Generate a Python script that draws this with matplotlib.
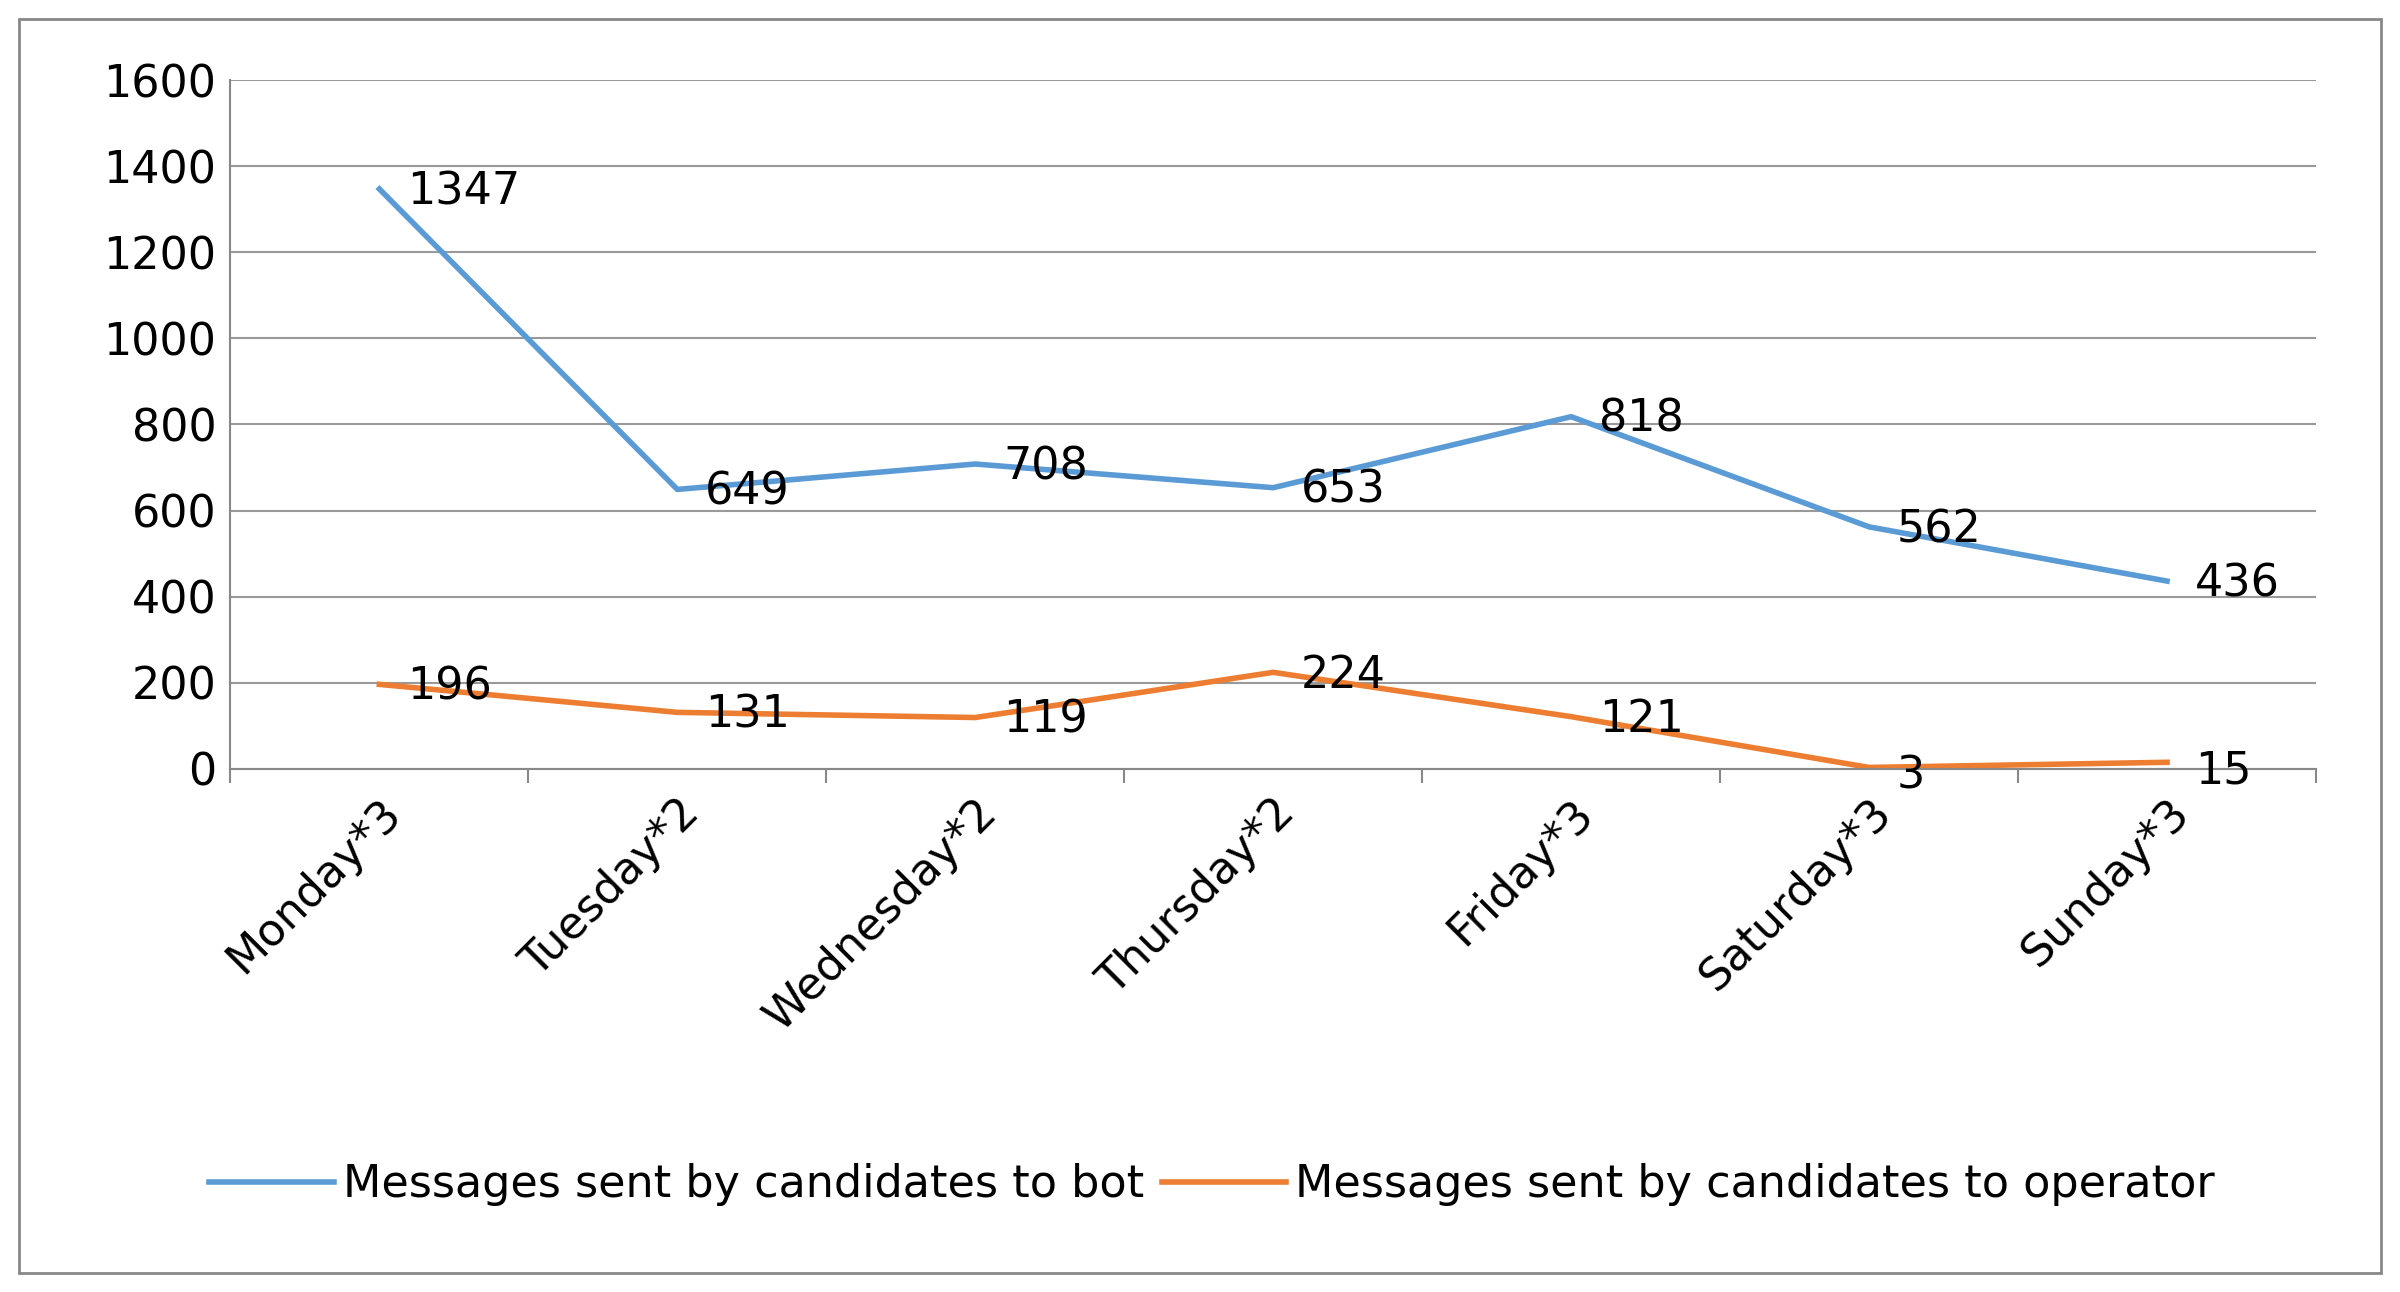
import matplotlib.pyplot as plt
from matplotlib.patches import Rectangle

days = ['Monday*3', 'Tuesday*2', 'Wednesday*2', 'Thursday*2', 'Friday*3', 'Saturday*3', 'Sunday*3']
to_bot = [1347, 649, 708, 653, 818, 562, 436]
to_operator = [196, 131, 119, 224, 121, 3, 15]

BLUE = '#5B9BD5'
ORANGE = '#ED7D31'
FS = 32

plt.rcParams['font.family'] = ['DejaVu Sans']

fig = plt.figure(figsize=(24, 12.92), dpi=100)
fig.patches.append(Rectangle((0.008, 0.015), 0.984, 0.97, transform=fig.transFigure,
                             fill=False, edgecolor='#888888', lw=2))
ax = fig.add_axes([0.096, 0.405, 0.869, 0.533])

x = range(len(days))
ax.plot(x, to_bot, color=BLUE, lw=4, label='Messages sent by candidates to bot')
ax.plot(x, to_operator, color=ORANGE, lw=4, label='Messages sent by candidates to operator')
for xi, v in zip(x, to_bot):
    ax.annotate(str(v), (xi, v), xytext=(20, -2), textcoords='offset points',
                va='center', ha='left', fontsize=FS)
for xi, v in zip(x, to_operator):
    ax.annotate(str(v), (xi, v), xytext=(20, -6 if v < 20 else -2), textcoords='offset points',
                va='center', ha='left', fontsize=FS)

ax.set_xlim(-0.5, len(days) - 0.5)
ax.set_ylim(0, 1600)
ax.set_yticks(range(0, 1601, 200))
ax.grid(axis='y', color='#999999', lw=1.5)
ax.set_axisbelow(True)
ax.set_xticks(list(x))
ax.set_xticklabels(days, rotation=45, ha='right', rotation_mode='anchor', fontsize=FS)
ax.tick_params(axis='x', length=0, pad=16)
ax.set_xticks([i - 0.5 for i in range(len(days) + 1)], minor=True)
ax.tick_params(axis='x', which='minor', length=10, width=1.5, color='#888888')
ax.tick_params(axis='y', labelsize=FS, length=0, pad=10)
for s in ['top', 'right']:
    ax.spines[s].set_visible(False)
for s in ['left', 'bottom']:
    ax.spines[s].set_color('#888888')
    ax.spines[s].set_linewidth(1.5)

fig.legend(loc='center', bbox_to_anchor=(0.505, 0.083), ncol=2, frameon=False,
           fontsize=FS, handlelength=2.8, columnspacing=0.4, handletextpad=0.2)

fig.savefig('out.png')
